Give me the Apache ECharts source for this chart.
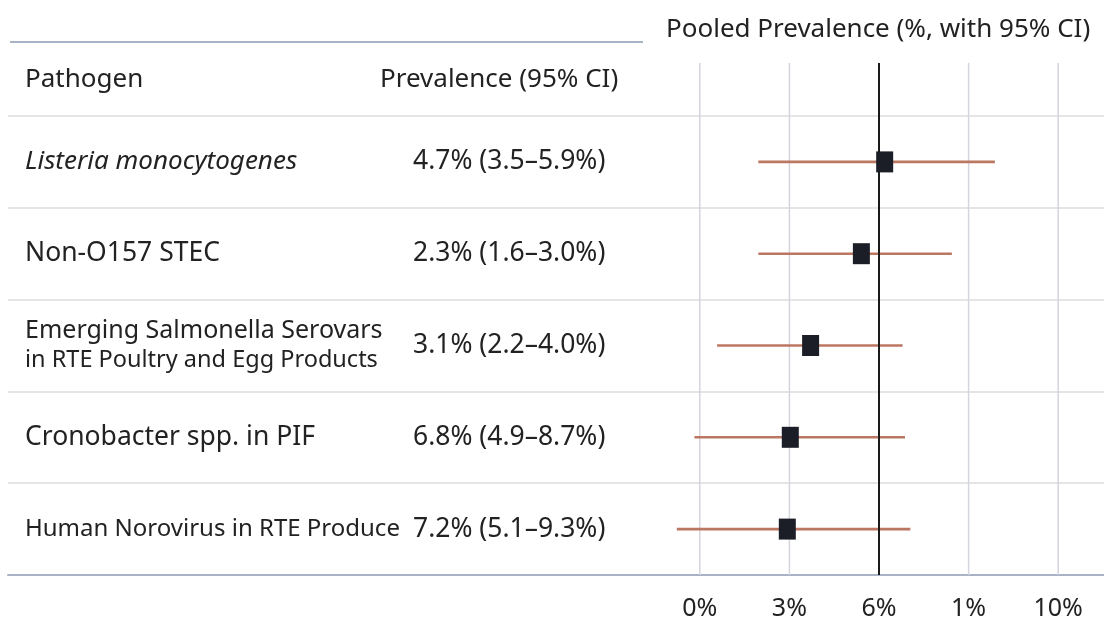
<!DOCTYPE html>
<html>
<head>
<meta charset="utf-8">
<script src="https://cdn.jsdelivr.net/npm/echarts@6/dist/echarts.min.js"></script>
<style>
  html, body { margin: 0; padding: 0; background: #fff; }
  #chart { width: 1104px; height: 621px; }
</style>
</head>
<body>
<div id="chart"></div>
<script>
// Pathogen rows (top to bottom)
const pathogens = [
  'Listeria monocytogenes',
  'Non-O157 STEC',
  'Emerging Salmonella Serovars\nin RTE Poultry and Egg Products',
  'Cronobacter spp. in PIF',
  'Human Norovirus in RTE Produce'
];
const prevalenceText = [
  '4.7% (3.5–5.9%)',
  '2.3% (1.6–3.0%)',
  '3.1% (2.2–4.0%)',
  '6.8% (4.9–8.7%)',
  '7.2% (5.1–9.3%)'
];
// positions as drawn on the plot axis
const pointEst = [6.19, 5.41, 3.71, 3.03, 2.93];
const ciLow = [1.96, 1.96, 0.58, -0.18, -0.77];
const ciHigh = [9.88, 8.44, 6.79, 6.87, 7.05];
// tick values and the labels printed under them
const tickValues = [0, 3, 6, 9, 12];
const tickLabels = ['0%', '3%', '6%', '1%', '10%'];
const refValue = 6;

const FONT = 'Noto Sans';
const TXT = '#222222';

const chart = echarts.init(document.getElementById('chart'));

// label markup for the pathogen column
function pathogenLabel(value, idx) {
  if (idx === 0) return '{it|' + value + '}';
  if (idx === 2) {
    const parts = value.split('\n');
    return '{m|' + parts[0] + '}\n{b|' + parts[1] + '}';
  }
  if (idx === 4) return '{s|' + value + '}';
  return '{a|' + value + '}';
}

const option = {
  backgroundColor: '#ffffff',
  animation: false,
  textStyle: { fontFamily: FONT },
  grid: [
    // table rows (full width)
    { left: 8, right: 0, top: 116, bottom: 46 },
    // forest plot
    { left: 655, right: 1, top: 116, bottom: 46 },
    // vertical guide lines (reach up into header)
    { left: 655, right: 1, top: 63, bottom: 46 }
  ],
  xAxis: [
    {
      gridIndex: 0, type: 'value', min: 0, max: 1,
      axisLine: { show: true, lineStyle: { color: '#a9b3c6', width: 2 } },
      axisTick: { show: false }, axisLabel: { show: false }, splitLine: { show: false }
    },
    {
      gridIndex: 1, type: 'value', min: -1.5, max: 13.5,
      axisLine: { show: false }, axisTick: { show: false }, splitLine: { show: false },
      axisLabel: {
        customValues: tickValues,
        fontSize: 25, color: TXT, fontFamily: FONT, margin: 21,
        formatter: v => tickLabels[tickValues.indexOf(v)] || ''
      }
    },
    {
      gridIndex: 2, type: 'value', min: -1.5, max: 13.5, show: false
    }
  ],
  yAxis: [
    {
      gridIndex: 0, type: 'category', inverse: true, data: pathogens,
      axisLine: { show: false }, axisTick: { show: false }, axisLabel: { show: false },
      splitLine: { show: true, lineStyle: { color: '#dcdcdc', width: 1.5 } }
    },
    {
      gridIndex: 1, type: 'category', inverse: true, data: pathogens, position: 'left',
      axisLine: { show: false }, axisTick: { show: false }, splitLine: { show: false },
      axisLabel: {
        align: 'left', margin: 630, formatter: pathogenLabel,
        rich: {
          a: { fontSize: 26.5, color: TXT, fontFamily: FONT },
          it: { fontSize: 26, color: TXT, fontFamily: FONT, fontStyle: 'italic' },
          m: { fontSize: 25, color: TXT, fontFamily: FONT, lineHeight: 30 },
          b: { fontSize: 23.5, color: TXT, fontFamily: FONT, lineHeight: 30 },
          s: { fontSize: 24, color: TXT, fontFamily: FONT }
        }
      }
    },
    {
      gridIndex: 1, type: 'category', inverse: true, data: prevalenceText, position: 'left',
      axisLine: { show: false }, axisTick: { show: false }, splitLine: { show: false },
      axisLabel: { align: 'left', margin: 242, fontSize: 26.5, color: TXT, fontFamily: FONT }
    },
    {
      gridIndex: 2, type: 'value', min: 0, max: 1, show: false
    }
  ],
  graphic: [
    {
      type: 'line', shape: { x1: 10, y1: 42, x2: 643, y2: 42 },
      style: { stroke: '#a9b3c6', lineWidth: 2 }
    },
    {
      type: 'text', left: 25, top: 67,
      style: { text: 'Pathogen', fontSize: 26, fill: TXT, fontFamily: FONT }
    },
    {
      type: 'text', left: 380, top: 67,
      style: { text: 'Prevalence (95% CI)', fontSize: 26, fill: TXT, fontFamily: FONT }
    },
    {
      type: 'text', left: 666, top: 17,
      style: { text: 'Pooled Prevalence (%, with 95% CI)', fontSize: 26, fill: TXT, fontFamily: FONT }
    }
  ],
  series: [
    {
      // light vertical guides
      type: 'custom', xAxisIndex: 2, yAxisIndex: 3, z: 1, silent: true,
      data: tickValues.filter(v => v !== refValue),
      renderItem: (params, api) => {
        const x = api.coord([api.value(0), 0])[0];
        const cs = params.coordSys;
        return {
          type: 'line',
          shape: { x1: x, y1: cs.y, x2: x, y2: cs.y + cs.height },
          style: { stroke: '#d3d6de', lineWidth: 1.5 }
        };
      }
    },
    {
      // confidence intervals
      type: 'custom', xAxisIndex: 1, yAxisIndex: 1, z: 2, silent: true,
      data: pathogens.map((p, i) => [ciLow[i], ciHigh[i], i]),
      encode: { x: [0, 1], y: 2 },
      renderItem: (params, api) => {
        const a = api.coord([api.value(0), api.value(2)]);
        const b = api.coord([api.value(1), api.value(2)]);
        return {
          type: 'line',
          shape: { x1: a[0], y1: a[1], x2: b[0], y2: b[1] },
          style: { stroke: '#bb7761', lineWidth: 2.6 }
        };
      }
    },
    {
      // reference line
      type: 'custom', xAxisIndex: 2, yAxisIndex: 3, z: 3, silent: true,
      data: [refValue],
      renderItem: (params, api) => {
        const x = api.coord([api.value(0), 0])[0];
        const cs = params.coordSys;
        return {
          type: 'line',
          shape: { x1: x, y1: cs.y, x2: x, y2: cs.y + cs.height },
          style: { stroke: '#1a1a1a', lineWidth: 2 }
        };
      }
    },
    {
      // point estimates
      type: 'scatter', xAxisIndex: 1, yAxisIndex: 1, z: 4, silent: true,
      symbol: 'rect', symbolSize: [17, 21],
      itemStyle: { color: '#1b1e27', opacity: 1 },
      data: pathogens.map((p, i) => [pointEst[i], i])
    }
  ]
};

chart.setOption(option);
</script>
</body>
</html>
